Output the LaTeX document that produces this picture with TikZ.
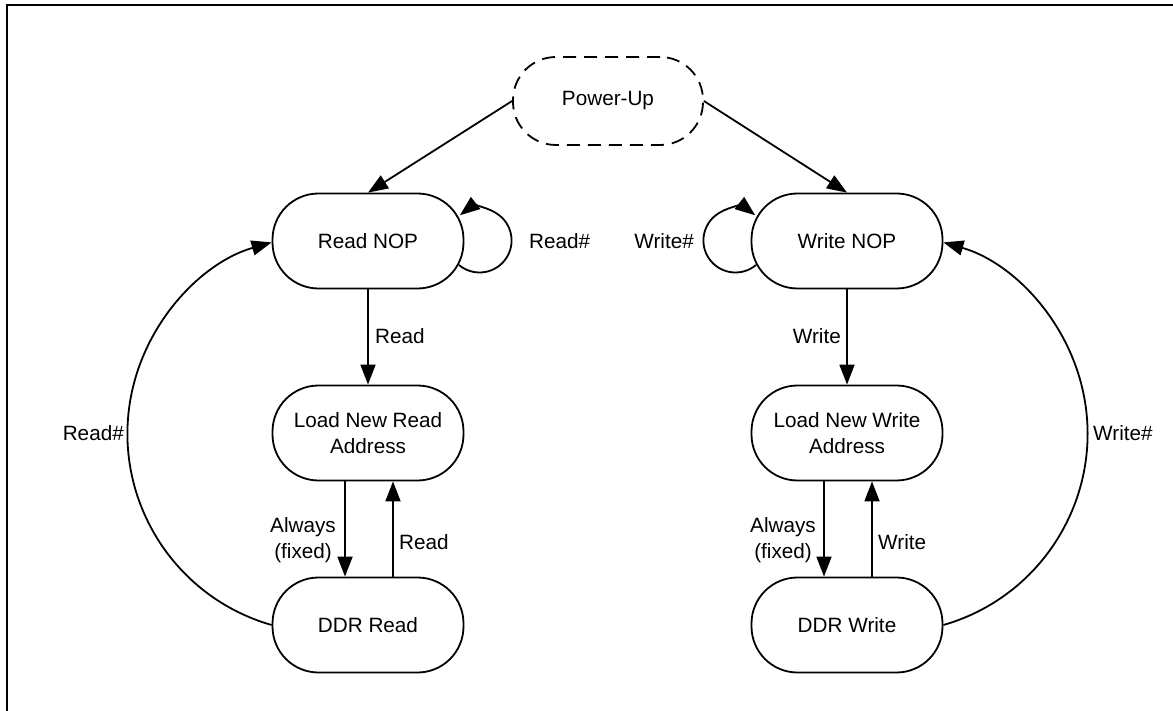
\documentclass[tikz,border=0pt]{standalone}
\usepackage{fontspec}
\setmainfont{Liberation Sans}
\usetikzlibrary{arrows.meta}
\begin{document}
\begin{tikzpicture}[x=1pt,y=1pt,
  font=\fontsize{20.7}{26.5}\selectfont,
  state/.style={draw, line width=1.8pt, rounded corners=46pt, minimum width=191pt, minimum height=95pt, inner sep=0pt, align=center},
  startstate/.style={state, dashed, dash pattern=on 13pt off 8pt, rounded corners=43pt, minimum width=190pt, minimum height=88pt},
  conn/.style={line width=1.8pt, -{Triangle[length=20pt,width=15pt]}},
  lbl/.style={inner sep=0pt, align=center}]
\useasboundingbox (0,0) rectangle (1173,-711);
\draw[line width=2.5pt] (7,-711) -- (7,-5) -- (1173,-5);

\node[startstate] (pu) at (608,-101) {Power-Up};
\node[state] (rn) at (368,-241) {Read NOP};
\node[state] (wn) at (847,-241) {Write NOP};
\node[state] (lr) at (368,-433) {Load New Read\\Address};
\node[state] (lw) at (847,-433) {Load New Write\\Address};
\node[state] (dr) at (368,-625) {DDR Read};
\node[state] (dw) at (847,-625) {DDR Write};

\draw[conn] (pu.west) -- (rn.north);
\draw[conn] (pu.east) -- (wn.north);

\draw[conn] ([shift={(91,-24)}]rn.center) arc[start angle=-130, end angle=128, radius=32pt];
\draw[conn] ([shift={(-91,-24)}]wn.center) arc[start angle=-50, end angle=-308, radius=32pt];
\node[lbl, anchor=west] (l1) at (529,-241) {Read\#};
\node[lbl, anchor=east] (l2) at (694,-241) {Write\#};

\draw[conn] (rn.south) -- (lr.north);
\draw[conn] (wn.south) -- (lw.north);
\node[lbl, anchor=west] (l3) at (375,-336) {Read};
\node[lbl, anchor=east] (l4) at (841,-336) {Write};

\draw[conn] ([xshift=-23pt]lr.south) -- ([xshift=-23pt]dr.north);
\draw[conn] ([xshift=25pt]dr.north) -- ([xshift=25pt]lr.south);
\draw[conn] ([xshift=-23pt]lw.south) -- ([xshift=-23pt]dw.north);
\draw[conn] ([xshift=25pt]dw.north) -- ([xshift=25pt]lw.south);
\node[lbl, anchor=east] (l5) at (336,-540) {Always\\(fixed)};
\node[lbl, anchor=west] (l6) at (399,-542) {Read};
\node[lbl, anchor=east] (l7) at (816,-540) {Always\\(fixed)};
\node[lbl, anchor=west] (l8) at (878,-542) {Write};

\draw[conn] (dr.west) arc[start angle=254, end angle=106, radius=199pt];
\draw[conn] (dw.east) arc[start angle=-74, end angle=74, radius=199pt];
\node[lbl, anchor=east] (l9) at (124,-433) {Read\#};
\node[lbl, anchor=west] (l10) at (1093,-433) {Write\#};
\end{tikzpicture}
\end{document}
